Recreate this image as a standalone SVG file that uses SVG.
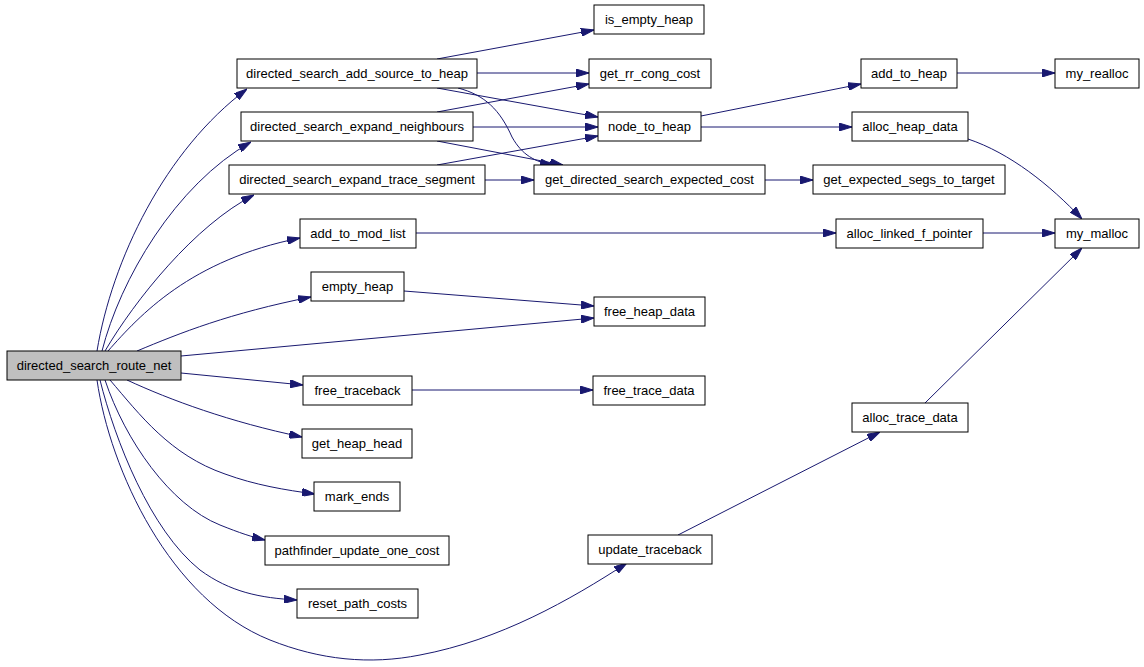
<svg xmlns="http://www.w3.org/2000/svg" width="1144" height="667" viewBox="0 0 1144 667">
<style>
.node rect{fill:#ffffff;stroke:#000000;stroke-width:1}
.node.root rect{fill:#bfbfbf}
.node text{font-family:"Liberation Sans",Arial,sans-serif;font-size:13px;fill:#000000;text-anchor:middle}
.edges path{fill:none;stroke:#191970;stroke-width:1;marker-end:url(#arr)}
</style>
<defs>
<marker id="arr" viewBox="0 0 13 8" refX="13" refY="4" markerWidth="13" markerHeight="8" markerUnits="userSpaceOnUse" orient="auto">
<path d="M0,0 L13,4 L0,8 z" fill="#191970" stroke="#191970" stroke-width="1"/>
</marker>
</defs>
<rect width="1144" height="667" fill="#ffffff"/>
<g class="edges" id="edges">
<path d="M97,351 C112,260 165,150 247,89"/>
<path d="M102,351 C120,280 175,185 251,142"/>
<path d="M105,351 C135,300 195,225 254,195"/>
<path d="M108,351 C140,315 190,260 300,238"/>
<path d="M137,351 C180,333 230,313 311,297"/>
<path d="M181,356 L594,318"/>
<path d="M181,373 L303,385"/>
<path d="M127,380 C170,400 230,422 302,437"/>
<path d="M110,380 C140,415 170,455 225,474 C255,485 285,490 315,494"/>
<path d="M105,380 C125,440 170,505 220,525 C240,533 252,537 265,540"/>
<path d="M100,380 C115,440 150,530 200,570 C230,592 260,598 297,600"/>
<path d="M97,380 C110,470 170,600 270,640 C320,660 370,665 420,655 C500,640 570,600 627,563"/>
<path d="M437,59 L594,30"/>
<path d="M477,73 L589,73"/>
<path d="M437,88 L598,117"/>
<path d="M458,88 C485,95 500,110 512,137 C522,155 535,162 553,165"/>
<path d="M437,112 L589,84"/>
<path d="M473,127 L598,127"/>
<path d="M437,141 L563,165"/>
<path d="M437,165 L598,136"/>
<path d="M485,180 L534,180"/>
<path d="M701,116 L861,84"/>
<path d="M701,127 L852,127"/>
<path d="M765,180 L813,180"/>
<path d="M957,73 L1055,73"/>
<path d="M968,139 C1010,153 1050,185 1082,219"/>
<path d="M983,233 L1055,233"/>
<path d="M416,233 L836,233"/>
<path d="M404,291 L594,306"/>
<path d="M412,390 L593,390"/>
<path d="M678,535 L880,432"/>
<path d="M925,403 L1082,248"/>
</g>
<g class="node root" id="directed_search_route_net"><rect x="7" y="351" width="174" height="29"/><text x="94" y="370">directed_search_route_net</text></g>
<g class="node" id="directed_search_add_source_to_heap"><rect x="237" y="59" width="240" height="29"/><text x="357" y="78">directed_search_add_source_to_heap</text></g>
<g class="node" id="directed_search_expand_neighbours"><rect x="241" y="112" width="232" height="29"/><text x="357" y="131">directed_search_expand_neighbours</text></g>
<g class="node" id="directed_search_expand_trace_segment"><rect x="229" y="165" width="256" height="29"/><text x="357" y="184">directed_search_expand_trace_segment</text></g>
<g class="node" id="add_to_mod_list"><rect x="300" y="219" width="116" height="29"/><text x="358" y="238">add_to_mod_list</text></g>
<g class="node" id="empty_heap"><rect x="311" y="272" width="93" height="29"/><text x="357.5" y="291">empty_heap</text></g>
<g class="node" id="free_traceback"><rect x="303" y="376" width="109" height="29"/><text x="357.5" y="395">free_traceback</text></g>
<g class="node" id="get_heap_head"><rect x="302" y="429" width="110" height="29"/><text x="357" y="448">get_heap_head</text></g>
<g class="node" id="mark_ends"><rect x="314" y="482" width="86" height="29"/><text x="357" y="501">mark_ends</text></g>
<g class="node" id="pathfinder_update_one_cost"><rect x="265" y="536" width="184" height="29"/><text x="357" y="555">pathfinder_update_one_cost</text></g>
<g class="node" id="reset_path_costs"><rect x="297" y="589" width="121" height="29"/><text x="357.5" y="608">reset_path_costs</text></g>
<g class="node" id="update_traceback"><rect x="588" y="535" width="124" height="29"/><text x="650" y="554">update_traceback</text></g>
<g class="node" id="is_empty_heap"><rect x="594" y="5" width="110" height="29"/><text x="649" y="24">is_empty_heap</text></g>
<g class="node" id="get_rr_cong_cost"><rect x="589" y="59" width="122" height="29"/><text x="650" y="78">get_rr_cong_cost</text></g>
<g class="node" id="node_to_heap"><rect x="598" y="112" width="103" height="29"/><text x="649.5" y="131">node_to_heap</text></g>
<g class="node" id="get_directed_search_expected_cost"><rect x="534" y="165" width="231" height="29"/><text x="649.5" y="184">get_directed_search_expected_cost</text></g>
<g class="node" id="free_heap_data"><rect x="594" y="297" width="111" height="29"/><text x="649.5" y="316">free_heap_data</text></g>
<g class="node" id="free_trace_data"><rect x="593" y="376" width="112" height="29"/><text x="649" y="395">free_trace_data</text></g>
<g class="node" id="add_to_heap"><rect x="861" y="59" width="96" height="29"/><text x="909" y="78">add_to_heap</text></g>
<g class="node" id="alloc_heap_data"><rect x="852" y="112" width="116" height="29"/><text x="910" y="131">alloc_heap_data</text></g>
<g class="node" id="get_expected_segs_to_target"><rect x="813" y="165" width="192" height="29"/><text x="909" y="184">get_expected_segs_to_target</text></g>
<g class="node" id="alloc_linked_f_pointer"><rect x="836" y="219" width="147" height="29"/><text x="909.5" y="238">alloc_linked_f_pointer</text></g>
<g class="node" id="alloc_trace_data"><rect x="852" y="403" width="116" height="29"/><text x="910" y="422">alloc_trace_data</text></g>
<g class="node" id="my_realloc"><rect x="1055" y="59" width="84" height="29"/><text x="1097" y="78">my_realloc</text></g>
<g class="node" id="my_malloc"><rect x="1055" y="219" width="84" height="29"/><text x="1097" y="238">my_malloc</text></g>
</svg>
